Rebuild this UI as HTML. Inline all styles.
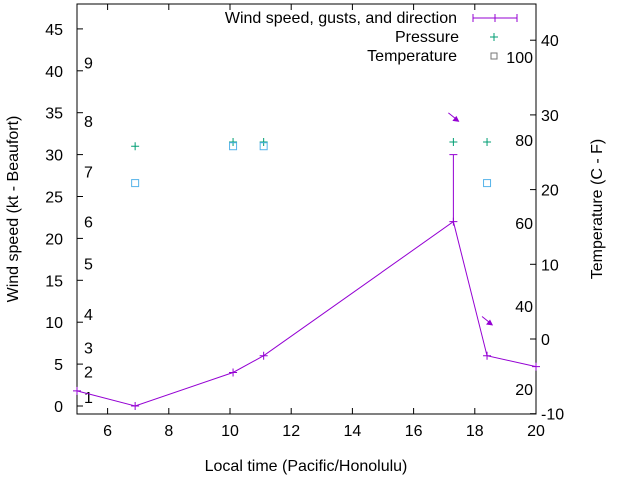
<!DOCTYPE html>
<html><head><meta charset="utf-8"><style>
body{margin:0;background:#fff}
svg{font-family:"Liberation Sans",sans-serif;font-size:16px}
</style></head><body>
<svg id="c" width="640" height="480"></svg>
<script>
const windX=[5,6.9,10.1,11.1,17.3,18.4,20];
const windY=[1.8,0,4,6,22,6,4.7];
const gustX=[17.3];
const gustY=[30];
const presX=[6.9,10.1,11.1,17.3,18.4];
const presY=[31,31.5,31.5,31.5,31.5];
const tempX=[6.9,10.1,11.1,18.4];
const tempY=[26.6,31,31,26.6];
const arrowX=[17.3,18.4];
const arrowY=[34.5,10.2];
const xTicks=[6,8,10,12,14,16,18,20];
const yTicks=[0,5,10,15,20,25,30,35,40,45];
const y2Ticks=[-10,0,10,20,30,40];
const beaufortY=[1,2,3,4,5,6,7,8,9];
const beaufortPos=[1.1,4.1,7,11,17,22,28,34,41];
const fahrenheit=[20,40,60,80,100];

const L=77,R=536,T=4,B=414;
const sx=v=>L+(v-5)/15*(R-L);
const sy=v=>406-v*8.38;
const sy2=v=>339-v*7.47;
const NS="http://www.w3.org/2000/svg";
const svg=document.getElementById('c');
function el(t,a,txt){const e=document.createElementNS(NS,t);for(const k in a)e.setAttribute(k,a[k]);if(txt!==undefined)e.textContent=txt;svg.appendChild(e);return e;}

let f=el('rect',{x:L,y:T,width:R-L,height:B-T,fill:'none',stroke:'#000'});


xTicks.forEach(v=>{const x=sx(v);
 let t=el('line',{x1:x,x2:x,y1:B,y2:B-6,stroke:'#000'});
 t=el('line',{x1:x,x2:x,y1:T,y2:T+6,stroke:'#000'});
 const l=el('text',{x:x,y:B+22,'text-anchor':'middle'},v);});
yTicks.forEach(v=>{const y=sy(v);
 let t=el('line',{x1:L,x2:L+6,y1:y,y2:y,stroke:'#000'});
 const l=el('text',{x:L-14,y:y+6,'text-anchor':'end'},v);});
y2Ticks.forEach(v=>{const y=sy2(v);
 let t=el('line',{x1:R,x2:R-6,y1:y,y2:y,stroke:'#000'});
 const l=el('text',{x:R+5,y:y+6,'text-anchor':'start'},v);});
beaufortY.forEach((v,i)=>{const l=el('text',{x:84,y:sy(beaufortPos[i])+6},v);});
fahrenheit.forEach(v=>{const l=el('text',{x:533,y:sy2((v-32)*5/9)+6,'text-anchor':'end'},v);});

let a=el('text',{x:306,y:471,'text-anchor':'middle'},'Local time (Pacific/Honolulu)');
a=el('text',{x:0,y:0,'text-anchor':'middle',transform:'translate(18,209) rotate(-90)'},'Wind speed (kt - Beaufort)');
a=el('text',{x:0,y:0,'text-anchor':'middle',transform:'translate(602,209) rotate(-90)'},'Temperature (C - F)');

const P='#9400d3',G='#009e73',C='#56b4e9';
let pl=el('polyline',{points:windX.map((x,i)=>sx(x)+','+sy(windY[i])).join(' '),fill:'none',stroke:P,'stroke-width':1});

windX.forEach((x,i)=>{const px=sx(x),py=sy(windY[i]);
 const m=el('path',{d:`M${px-4},${py}h8M${px},${py-4}v8`,stroke:P});});
gustX.forEach((x,i)=>{const idx=windX.indexOf(x);const px=sx(x);
 const g=el('path',{d:`M${px},${sy(windY[idx])}V${sy(gustY[i])}M${px-4},${sy(gustY[i])}h8`,stroke:P});});
presX.forEach((x,i)=>{const px=sx(x),py=sy(presY[i]);
 const m=el('path',{d:`M${px-4},${py}h8M${px},${py-4}v8`,stroke:G});});
tempX.forEach((x,i)=>{const px=sx(x),py=sy(tempY[i]);
 const m=el('rect',{x:px-3.5,y:py-3.5,width:7,height:7,fill:'none',stroke:C});});
arrowX.forEach((x,i)=>{const px=sx(x)+5,py=sy(arrowY[i])+4;
 const m=el('path',{d:`M${px-10},${py-8}L${px},${py}`,stroke:P,fill:'none'});
 const h=el('path',{d:`M${px+1},${py+1}l-7,-1l4,-5z`,fill:P});});

a=el('text',{x:457,y:23,'text-anchor':'end'},'Wind speed, gusts, and direction');
a=el('path',{d:'M473,18h44M473,14v8M517,14v8M495,14v8',stroke:P});
a=el('text',{x:459,y:42,'text-anchor':'end'},'Pressure');
a=el('path',{d:'M490,37h8M494,33v8',stroke:G});
a=el('text',{x:457,y:61,'text-anchor':'end'},'Temperature');
a=el('rect',{x:491,y:53,width:6,height:6,fill:'none',stroke:'#777'});
</script>
</body></html>
